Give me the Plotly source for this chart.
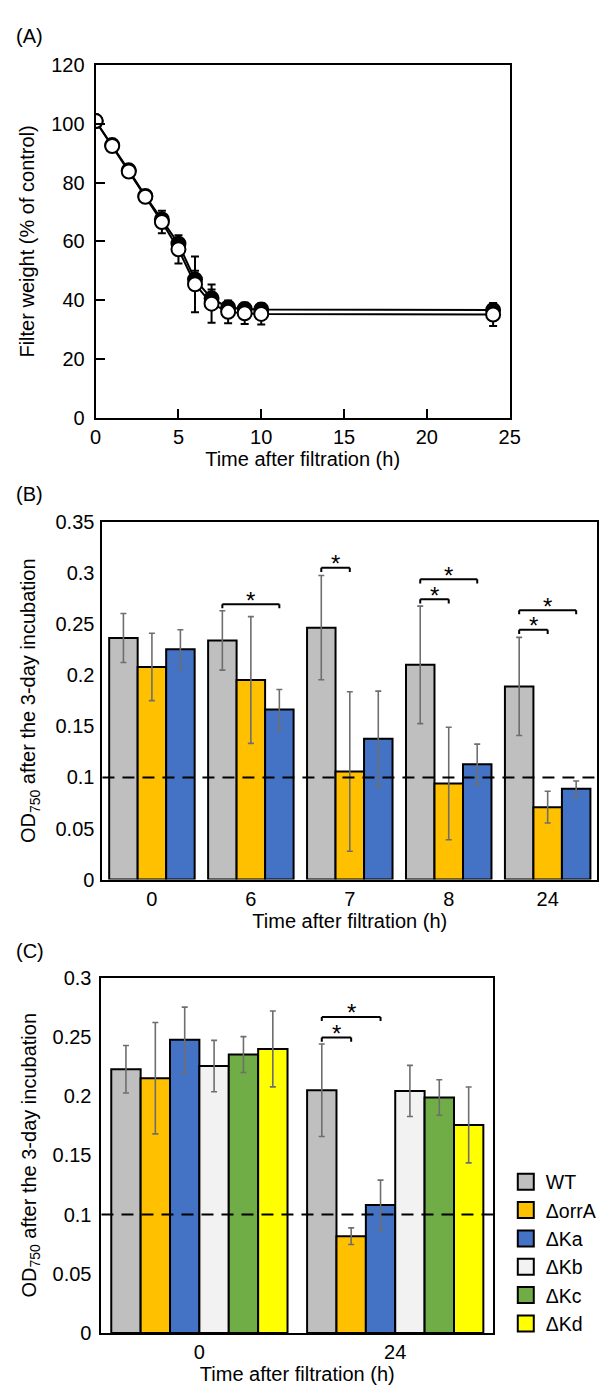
import plotly.graph_objects as go

# page body has an 8 px margin: figure is placed at (8, 8) in the window
OFF = 8
W, H = 613 - OFF, 1393 - OFF
FONT = "Liberation Sans, Arial, sans-serif"

# ---------------- Panel A data ----------------
time_a = [0, 1, 2, 3, 4, 5, 6, 7, 8, 9, 10, 24]
filled_a = [101.0, 92.8, 84.2, 75.5, 67.5, 59.2, 47.0, 40.6, 37.5, 37.0, 36.8, 36.6]
filled_err = [1.0, 1.0, 1.0, 1.0, 1.5, 1.5, 3.0, 3.0, 1.5, 1.5, 1.5, 1.5]
open_a = [101.0, 92.5, 83.8, 75.2, 66.6, 57.3, 45.4, 38.8, 36.0, 35.5, 35.3, 35.1]
open_err = [0.8, 1.0, 1.0, 1.2, 3.8, 4.8, 9.5, 6.5, 3.9, 3.6, 3.6, 3.9]

# ---------------- Panel B data ----------------
cats_b = ["0", "6", "7", "8", "24"]
b_wt = [0.2364, 0.2340, 0.2465, 0.2101, 0.1890]
b_wt_err = [0.024, 0.029, 0.051, 0.0575, 0.048]
b_orra = [0.2081, 0.1953, 0.1058, 0.0940, 0.0709]
b_orra_err = [0.033, 0.062, 0.078, 0.055, 0.0155]
b_ka = [0.2255, 0.1665, 0.1379, 0.1129, 0.0888]
b_ka_err = [0.019, 0.0195, 0.0465, 0.0197, 0.0077]
# significance brackets: (category index, from strain, to strain, height)
b_sig = [(1, 0, 2, 0.2694), (2, 0, 1, 0.305), (3, 0, 1, 0.2742), (3, 0, 2, 0.2938),
         (4, 0, 1, 0.2444), (4, 0, 2, 0.2636)]
b_ticks = [0, 0.05, 0.1, 0.15, 0.2, 0.25, 0.3, 0.35]
b_ticktext = ["0", "0.05", "0.1", "0.15", "0.2", "0.25", "0.3", "0.35"]

# ---------------- Panel C data ----------------
cats_c = ["0", "24"]
strains_c = ["WT", "ΔorrA", "ΔKa", "ΔKb", "ΔKc", "ΔKd"]
c_vals = {
    "WT":    [0.2226, 0.2049],
    "ΔorrA": [0.2151, 0.0818],
    "ΔKa":   [0.2474, 0.1081],
    "ΔKb":   [0.2253, 0.2043],
    "ΔKc":   [0.2350, 0.1988],
    "ΔKd":   [0.2397, 0.1756],
}
c_errs = {
    "WT":    [0.020, 0.039],
    "ΔorrA": [0.047, 0.007],
    "ΔKa":   [0.0276, 0.021],
    "ΔKb":   [0.0217, 0.0216],
    "ΔKc":   [0.0151, 0.015],
    "ΔKd":   [0.032, 0.032],
}
c_sig = [(1, 0, 1, 0.2494), (1, 0, 2, 0.2668)]
c_ticks = [0, 0.05, 0.1, 0.15, 0.2, 0.25, 0.3]
c_ticktext = ["0", "0.05", "0.1", "0.15", "0.2", "0.25", "0.3"]
threshold = 0.1

colors = {"WT": "#BFBFBF", "ΔorrA": "#FFC000", "ΔKa": "#4472C4",
          "ΔKb": "#F2F2F2", "ΔKc": "#70AD47", "ΔKd": "#FFFF00"}
ERRC = "#6E6E6E"


def dom_x(a, b):
    return [(a - OFF) / W, (b - OFF) / W]


def dom_y(top, bottom):
    return [1 - (bottom - OFF) / H, 1 - (top - OFF) / H]


def px(x):
    return (x - OFF) / W


def py(y):
    return 1 - (y - OFF) / H


fig = go.Figure()

# Panel A
fig.add_trace(go.Scatter(
    x=time_a, y=filled_a, mode="lines+markers",
    error_y=dict(type="data", array=filled_err, color="black", thickness=2, width=4),
    line=dict(color="black", width=2),
    marker=dict(size=14, color="black", line=dict(color="black", width=2)),
    xaxis="x", yaxis="y", showlegend=False))
fig.add_trace(go.Scatter(
    x=time_a, y=open_a, mode="lines+markers",
    error_y=dict(type="data", array=open_err, color="black", thickness=2, width=4),
    line=dict(color="black", width=2),
    marker=dict(size=14, color="white", line=dict(color="black", width=2)),
    xaxis="x", yaxis="y", showlegend=False))

# Panel B
bw_b = 0.288
for k, (name, vals, errs) in enumerate([("WT", b_wt, b_wt_err), ("ΔorrA", b_orra, b_orra_err),
                                       ("ΔKa", b_ka, b_ka_err)]):
    fig.add_trace(go.Bar(
        x=cats_b, y=vals, name=name, width=bw_b, offset=-1.5 * bw_b + k * bw_b,
        error_y=dict(type="data", array=errs, color=ERRC, thickness=1.6, width=3),
        marker=dict(color=colors[name], line=dict(color="black", width=2)),
        xaxis="x2", yaxis="y2", showlegend=False))

# Panel C
bw_c = 0.15
for k, name in enumerate(strains_c):
    fig.add_trace(go.Bar(
        x=cats_c, y=c_vals[name], name=name, width=bw_c, offset=-3 * bw_c + k * bw_c,
        error_y=dict(type="data", array=c_errs[name], color=ERRC, thickness=1.6, width=3),
        marker=dict(color=colors[name], line=dict(color="black", width=2)),
        xaxis="x3", yaxis="y3", showlegend=False))
    # legend entry
    fig.add_trace(go.Scatter(
        x=[None], y=[None], mode="markers", name=name,
        marker=dict(symbol="square", size=16, color=colors[name],
                    line=dict(color="black", width=2)),
        xaxis="x3", yaxis="y3", showlegend=True))

shapes = []
annotations = []


def add_brackets(sig, xref, yref, bw, nbars, drop):
    for (ci, s0, s1, yv) in sig:
        xa = ci - nbars / 2 * bw + (s0 + 0.5) * bw
        xb = ci - nbars / 2 * bw + (s1 + 0.5) * bw
        ln = dict(color="black", width=2)
        shapes.append(dict(type="line", xref=xref, yref=yref, x0=xa, x1=xb, y0=yv, y1=yv, line=ln))
        shapes.append(dict(type="line", xref=xref, yref=yref, x0=xa, x1=xa, y0=yv, y1=yv - drop, line=ln))
        shapes.append(dict(type="line", xref=xref, yref=yref, x0=xb, x1=xb, y0=yv, y1=yv - drop, line=ln))
        annotations.append(dict(text="*", x=(xa + xb) / 2, y=yv, xref=xref, yref=yref,
                                showarrow=False, yanchor="middle", yshift=4,
                                font=dict(size=24, color="black", family=FONT)))


add_brackets(b_sig, "x2", "y2", bw_b, 3, 0.004)
add_brackets(c_sig, "x3", "y3", bw_c, 6, 0.0035)

for yr, xr in [("y2", "x2 domain"), ("y3", "x3 domain")]:
    shapes.append(dict(type="line", xref=xr, yref=yr, x0=0, x1=1, y0=threshold, y1=threshold,
                       line=dict(color="black", width=2, dash="12px,8px"), layer="above"))

for lab, yc in [("(A)", 25), ("(B)", 491), ("(C)", 955)]:
    annotations.append(dict(text=lab, x=px(8), y=py(yc), xref="paper", yref="paper",
                            xanchor="left", yanchor="middle", showarrow=False,
                            font=dict(size=20, color="black", family=FONT)))

axis_common = dict(showline=True, linecolor="black", linewidth=2, mirror=True,
                   showgrid=False, zeroline=False,
                   tickfont=dict(size=20, color="black", family=FONT))
title_font = dict(size=20, color="black", family=FONT)

fig.update_layout(
    width=W, height=H, margin=dict(l=0, r=0, t=0, b=0),
    paper_bgcolor="white", plot_bgcolor="white",
    font=dict(family=FONT, color="black", size=20),
    barmode="overlay",
    xaxis=dict(axis_common, domain=dom_x(92, 518), anchor="y", range=[0, 25], dtick=5,
               ticks="inside", ticklen=9, tickwidth=2, tickcolor="black",
               title=dict(text="Time after filtration (h)", font=title_font, standoff=2)),
    yaxis=dict(axis_common, domain=dom_y(55, 413), anchor="x", range=[0, 120], dtick=20,
               ticks="inside", ticklen=9, tickwidth=2, tickcolor="black", ticklabelstandoff=5,
               title=dict(text="Filter weight (% of control)", font=title_font, standoff=11)),
    xaxis2=dict(axis_common, domain=dom_x(99, 608), anchor="y2", type="category",
                range=[-0.5, 4.5], ticks="", ticklen=0,
                title=dict(text="Time after filtration (h)", font=title_font, standoff=0)),
    yaxis2=dict(axis_common, domain=dom_y(519, 882.5), anchor="x2", range=[0, 0.35],
                tickvals=b_ticks, ticktext=b_ticktext, ticks="", ticklen=0, ticklabelstandoff=2,
                title=dict(text="OD<sub>750</sub> after the 3-day incubation", font=title_font,
                           standoff=14)),
    xaxis3=dict(axis_common, domain=dom_x(98, 501), anchor="y3", type="category",
                range=[-0.5, 1.5], ticks="", ticklen=0,
                title=dict(text="Time after filtration (h)", font=title_font, standoff=0)),
    yaxis3=dict(axis_common, domain=dom_y(982, 1343.3), anchor="x3", range=[0, 0.3],
                tickvals=c_ticks, ticktext=c_ticktext, ticks="", ticklen=0, ticklabelstandoff=4,
                title=dict(text="OD<sub>750</sub> after the 3-day incubation", font=title_font,
                           standoff=11)),
    legend=dict(x=px(514), y=py(1170), xanchor="left", yanchor="top",
                bgcolor="rgba(0,0,0,0)", borderwidth=0,
                font=dict(size=19.5, color="black", family=FONT)),
    shapes=shapes, annotations=annotations,
)

fig.write_html("out.html")
